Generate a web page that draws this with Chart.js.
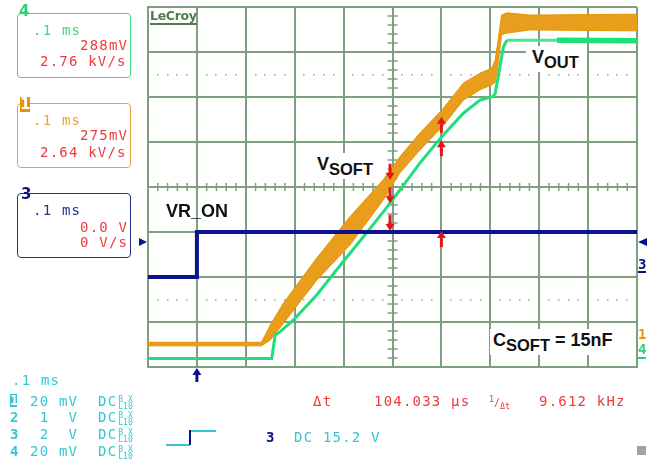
<!DOCTYPE html>
<html>
<head>
<meta charset="utf-8">
<title>Soft-start scope capture</title>
<script src="https://cdn.jsdelivr.net/npm/chart.js@4.4.1/dist/chart.umd.min.js"></script>
<style>
  html, body { margin: 0; padding: 0; background: #fff; }
  #wrap { position: relative; width: 654px; height: 461px; overflow: hidden; background: #fff; }
  #scope { position: absolute; left: 0; top: 0; }
  .m { position: absolute; white-space: pre; font-family: 'DejaVu Sans Mono', monospace; font-size: 14px; line-height: 14px; letter-spacing: 1.2px; }
  .box { position: absolute; left: 17px; width: 114px; height: 65px; box-sizing: border-box; border: 1.5px solid; border-radius: 4px; }
  .tag { position: absolute; font-family: 'DejaVu Sans', sans-serif; font-weight: bold; font-size: 15px; line-height: 15px; }
  .lbl { position: absolute; white-space: pre; font-family: 'Liberation Sans', Arial, sans-serif; font-weight: bold; font-size: 18px; line-height: 22px; color: #111; background: #fff; padding-bottom: 4px; }
  .lbl .s { font-size: 16.5px; position: relative; top: 5px; }
  .red { color: #ee3b3b; }
  .cy { color: #35c6cf; }
  .bl { display: inline-block; font-size: 8px; line-height: 7px; letter-spacing: 0; vertical-align: -3px; margin-left: 1px; }
</style>
</head>
<body>
<div id="wrap">
  <canvas id="scope" width="654" height="461"></canvas>

  <!-- channel 4 box -->
  <div class="box" style="top:13px;border-color:#3fd783"></div>
  <div class="tag" style="left:19px;top:4px;color:#2bcf74">4</div>
  <div class="m" style="left:33px;top:23px;color:#3fd783">.1 ms</div>
  <div class="m red" style="left:80px;top:38px">288mV</div>
  <div class="m red" style="left:40px;top:54px">2.76 kV/s</div>

  <!-- channel 1 box -->
  <div class="box" style="top:103px;border-color:#e8a53e"></div>
  <div class="tag" style="left:20px;top:97px;width:10px;height:15px;background:#e69500;color:#fff;text-align:center">1</div>
  <div class="m" style="left:33px;top:113px;color:#e8a53e">.1 ms</div>
  <div class="m red" style="left:80px;top:128px">275mV</div>
  <div class="m red" style="left:40px;top:145px">2.64 kV/s</div>

  <!-- channel 3 box -->
  <div class="box" style="top:193px;border-color:#27308f"></div>
  <div class="tag" style="left:21px;top:187px;color:#0a128c">3</div>
  <div class="m" style="left:33px;top:203px;color:#27308f">.1 ms</div>
  <div class="m red" style="left:80px;top:220px">0.0 V</div>
  <div class="m red" style="left:80px;top:235px">0 V/s</div>

  <!-- logo -->
  <div style="position:absolute;left:150px;top:9px;font-family:'DejaVu Sans',sans-serif;font-weight:bold;font-size:12.5px;line-height:14px;color:#4d7d4d;border-bottom:2px solid #4d7d4d;letter-spacing:-0.3px">LeCroy</div>

  <!-- trace annotations -->
  <div class="lbl" style="left:166px;top:200px;background:transparent">VR_ON</div>
  <div class="lbl" style="left:314px;top:153px;padding-left:3px;padding-right:3px">V<span class="s">SOFT</span></div>
  <div class="lbl" style="left:526px;top:46px;padding-left:6px;padding-right:8px">V<span class="s">OUT</span></div>
  <div class="lbl" style="left:490px;top:329px;padding-left:3px;padding-right:5px">C<span class="s">SOFT</span> = 15nF</div>

  <!-- right edge channel markers -->
  <div class="m" style="left:638px;top:257px;font-weight:bold;color:#0a128c;border-bottom:2px solid #0a128c;letter-spacing:0">3</div>
  <div class="m" style="left:638px;top:327px;font-weight:bold;color:#e69500;letter-spacing:0">1</div>
  <div class="m" style="left:638px;top:342px;font-weight:bold;color:#2bcf74;letter-spacing:0">4</div>
  <div style="position:absolute;left:638px;top:357px;width:8px;height:2px;background:#2bcf74"></div>

  <!-- bottom readouts -->
  <div class="m cy" style="left:12px;top:373px">.1 ms</div>
  <div class="m" style="left:10px;top:394px;width:7px;height:13px;background:#35c6cf;color:#fff;font-weight:bold;letter-spacing:0;line-height:13px">1</div>
  <div class="m cy" style="left:30px;top:394px">20 mV</div>
  <div class="m cy" style="left:98px;top:394px">DC<span class="bl">B X<br>L10</span></div>
  <div class="m cy" style="left:10px;top:410px;font-weight:bold">2</div>
  <div class="m cy" style="left:30px;top:410px"> 1  V</div>
  <div class="m cy" style="left:98px;top:410px">DC<span class="bl">B X<br>L10</span></div>
  <div class="m cy" style="left:10px;top:427px;font-weight:bold">3</div>
  <div class="m cy" style="left:30px;top:427px"> 2  V</div>
  <div class="m cy" style="left:98px;top:427px">DC<span class="bl">B X<br>L10</span></div>
  <div class="m cy" style="left:10px;top:444px;font-weight:bold">4</div>
  <div class="m cy" style="left:30px;top:444px">20 mV</div>
  <div class="m cy" style="left:98px;top:444px">DC<span class="bl">B X<br>L10</span></div>

  <div class="m red" style="left:313px;top:394px">Δt</div>
  <div class="m red" style="left:374px;top:394px">104.033 μs</div>
  <div class="m red" style="left:489px;top:392px;font-size:10px;letter-spacing:0"><sup>1</sup>/<sub>Δt</sub></div>
  <div class="m red" style="left:539px;top:394px">9.612 kHz</div>

  <div style="position:absolute;left:166px;top:444px;width:24px;height:1.5px;background:#35c6cf"></div>
  <div style="position:absolute;left:189px;top:430px;width:2px;height:15px;background:#0a128c"></div>
  <div style="position:absolute;left:191px;top:430px;width:25px;height:1.5px;background:#35c6cf"></div>
  <div class="m" style="left:266px;top:430px;font-weight:bold;color:#0a128c">3</div>
  <div class="m cy" style="left:294px;top:430px">DC 15.2 V</div>
  <div style="position:absolute;left:637px;top:446px;width:9px;height:9px;background:#a3a3a3"></div>
</div>

<script>
// time in µs (100 µs/div), level in screen divisions from the centre line
const ch3Time = [0, 99, 100, 1000];
const ch3Level = [-2, -2, -1, -1];

const ch4Time = [0, 253, 260, 270, 297, 345, 399, 447, 488, 502, 515, 556, 601, 645, 679, 706, 710, 727, 734, 836, 1000];
const ch4Level = [-3.81, -3.81, -3.29, -3.22, -2.96, -2.40, -1.66, -1.02, -0.46, -0.25, -0.07, 0.53, 1.12, 1.64, 1.93, 2.01, 2.08, 3.12, 3.26, 3.26, 3.25];

// ch1 is noisy, kept as the top and bottom of its band
const ch1Time = [0, 232, 250, 277, 345, 413, 481, 515, 556, 601, 645, 679, 703, 710, 716, 723, 734, 781, 1000];
const ch1Upper = [-3.45, -3.45, -3.07, -2.58, -1.58, -0.66, 0.16, 0.67, 1.20, 1.71, 2.31, 2.53, 2.64, 2.82, 3.27, 3.82, 3.87, 3.82, 3.84];
const ch1Lower = [-3.53, -3.53, -3.40, -3.03, -2.07, -1.29, -0.29, 0.31, 0.82, 1.33, 1.93, 2.16, 2.27, 2.33, 2.71, 3.38, 3.42, 3.49, 3.47];

// cursors: arrows pointing at each trace
const cursorDownTime = 495;
const cursorDownTips = [0.16, -0.36, -0.98];
const cursorUpTime = 600;
const cursorUpTips = [1.56, 1.04, -0.98];

const triggerTime = 100;
const ch3Marker = -1.22;
const dottedLevels = [2.5, -2.5];

const GRID = '#7f9f7f';
const ORANGE = '#e69500';
const GREEN = '#1fdf7a';
const NAVY = '#0a128c';
const RED = '#e3141b';

const toPoints = (xs, ys) => xs.map((t, i) => ({ x: t, y: ys[i] }));

const scopeMarks = {
  id: 'scopeMarks',
  beforeDatasetsDraw(chart) {
    const { ctx, scales: { x, y } } = chart;
    ctx.save();
    // dotted quarter lines
    ctx.fillStyle = '#95a595';
    dottedLevels.forEach(lv => {
      const py = y.getPixelForValue(lv);
      for (let i = 1; i < 50; i++) {
        if (i % 5 === 0) continue;
        ctx.fillRect(Math.round(x.getPixelForValue(i * 20)) - 1, Math.round(py) - 1, 1.5, 1.5);
      }
    });
    // minor ticks on the centre axes
    ctx.strokeStyle = GRID;
    ctx.lineWidth = 1.5;
    const cx = x.getPixelForValue(500);
    const cy = y.getPixelForValue(0);
    ctx.beginPath();
    for (let i = 1; i < 50; i++) {
      if (i % 5 === 0) continue;
      const px = x.getPixelForValue(i * 20);
      ctx.moveTo(px, cy - 4);
      ctx.lineTo(px, cy + 4);
    }
    for (let i = -19; i < 20; i++) {
      if (i % 5 === 0) continue;
      const py = y.getPixelForValue(i / 5);
      ctx.moveTo(cx - 5, py);
      ctx.lineTo(cx + 5, py);
    }
    ctx.stroke();
    ctx.restore();
  },
  afterDatasetsDraw(chart) {
    const { ctx, scales: { x, y } } = chart;
    ctx.save();
    ctx.fillStyle = RED;
    const arrow = (px, tip, dir) => {
      // dir 1 = pointing down, -1 = pointing up
      const len = 16, head = 7, hw = 4.5;
      if (dir > 0) ctx.fillRect(px - 1.5, tip - len, 3, len - head);
      else ctx.fillRect(px - 1.5, tip + head, 3, len - head);
      ctx.beginPath();
      ctx.moveTo(px, tip);
      ctx.lineTo(px - hw, tip - dir * head);
      ctx.lineTo(px + hw, tip - dir * head);
      ctx.closePath();
      ctx.fill();
    };
    cursorDownTips.forEach(v => arrow(x.getPixelForValue(cursorDownTime), y.getPixelForValue(v), 1));
    cursorUpTips.forEach(v => arrow(x.getPixelForValue(cursorUpTime), y.getPixelForValue(v), -1));
    ctx.restore();
  },
  afterDraw(chart) {
    const { ctx, chartArea: a, scales: { x, y } } = chart;
    ctx.save();
    ctx.fillStyle = NAVY;
    const my = y.getPixelForValue(ch3Marker);
    ctx.beginPath();
    ctx.moveTo(a.left - 1, my);
    ctx.lineTo(a.left - 9, my - 4);
    ctx.lineTo(a.left - 9, my + 4);
    ctx.closePath();
    ctx.fill();
    ctx.beginPath();
    ctx.moveTo(a.right + 1, my);
    ctx.lineTo(a.right + 10, my - 4);
    ctx.lineTo(a.right + 10, my + 4);
    ctx.closePath();
    ctx.fill();
    // trigger position arrow under the grid
    const tx = x.getPixelForValue(triggerTime);
    const tip = a.bottom + 1;
    ctx.fillRect(tx - 1.5, tip + 6, 3, 8);
    ctx.beginPath();
    ctx.moveTo(tx, tip);
    ctx.lineTo(tx - 4.5, tip + 7);
    ctx.lineTo(tx + 4.5, tip + 7);
    ctx.closePath();
    ctx.fill();
    ctx.restore();
  }
};

new Chart(document.getElementById('scope'), {
  type: 'line',
  data: {
    datasets: [
      {
        label: 'VR_ON',
        data: toPoints(ch3Time, ch3Level),
        borderColor: NAVY,
        borderWidth: 4,
        order: 0
      },
      {
        label: 'VOUT',
        data: toPoints(ch4Time, ch4Level),
        borderColor: GREEN,
        borderWidth: 3,
        segment: {
          borderWidth: c => (c.p0.parsed.x >= 836 ? 5.5 : 3),
          borderColor: c => (c.p0.parsed.x >= 734 && c.p0.parsed.x < 836 ? '#4ae592' : GREEN)
        },
        order: 1
      },
      {
        label: 'VSOFT low',
        data: toPoints(ch1Time, ch1Lower),
        borderColor: ORANGE,
        borderWidth: 1,
        fill: false,
        order: 2
      },
      {
        label: 'VSOFT high',
        data: toPoints(ch1Time, ch1Upper),
        borderColor: ORANGE,
        backgroundColor: '#e89d1c',
        borderWidth: 1,
        fill: '-1',
        order: 3
      }
    ]
  },
  options: {
    responsive: false,
    animation: false,
    layout: { padding: { left: 148, right: 17, top: 7, bottom: 94 } },
    elements: { point: { radius: 0 }, line: { tension: 0 } },
    plugins: { legend: { display: false }, tooltip: { enabled: false } },
    scales: {
      x: {
        type: 'linear',
        min: 0,
        max: 1000,
        ticks: { stepSize: 100, display: false },
        grid: { color: GRID, lineWidth: 2, drawTicks: false },
        border: { color: GRID, width: 2 }
      },
      y: {
        min: -4,
        max: 4,
        ticks: { stepSize: 1, display: false },
        grid: { color: GRID, lineWidth: 2, drawTicks: false },
        border: { color: GRID, width: 2 }
      }
    }
  },
  plugins: [scopeMarks]
});
</script>
</body>
</html>
